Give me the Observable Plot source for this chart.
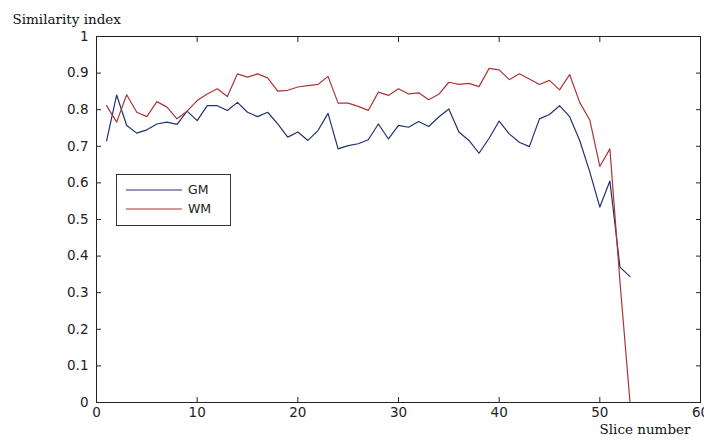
<!DOCTYPE html>
<html>
<head>
<meta charset="utf-8">
<script src="https://cdn.jsdelivr.net/npm/d3@7"></script>
<script src="https://cdn.jsdelivr.net/npm/@observablehq/plot@0.6"></script>
<style>
  body { margin: 0; background: #fff; }
  #wrap { position: relative; width: 704px; height: 445px; overflow: hidden; background: #fff; }
  #legend { position: absolute; left: 116px; top: 174px; width: 113px; height: 50px;
            border: 1px solid #333; background: #fff; }
</style>
</head>
<body>
<div id="wrap"><div id="chart"></div><div id="legend"></div></div>
<script>
const slices = [1,2,3,4,5,6,7,8,9,10,11,12,13,14,15,16,17,18,19,20,21,22,23,24,25,26,27,28,29,30,31,32,33,34,35,36,37,38,39,40,41,42,43,44,45,46,47,48,49,50,51,52,53];
const gmValues = [0.715,0.84,0.757,0.736,0.745,0.761,0.766,0.76,0.796,0.77,0.811,0.811,0.798,0.82,0.793,0.781,0.793,0.761,0.725,0.739,0.716,0.743,0.79,0.693,0.702,0.707,0.718,0.761,0.72,0.757,0.752,0.768,0.754,0.78,0.802,0.739,0.716,0.681,0.722,0.769,0.734,0.711,0.699,0.775,0.787,0.811,0.781,0.716,0.63,0.534,0.605,0.37,0.344];
const wmValues = [0.811,0.766,0.841,0.793,0.781,0.822,0.807,0.775,0.796,0.825,0.843,0.857,0.836,0.898,0.889,0.898,0.887,0.851,0.853,0.862,0.866,0.869,0.891,0.818,0.818,0.809,0.798,0.848,0.839,0.857,0.843,0.846,0.827,0.842,0.875,0.869,0.872,0.863,0.913,0.909,0.882,0.898,0.884,0.869,0.88,0.854,0.896,0.82,0.772,0.645,0.693,0.33,0];
const seriesNames = ["GM", "WM"];
const seriesColors = ["#24316f", "#ab3535"];
const xTicks = [0,10,20,30,40,50,60];
const yTicks = [0,0.1,0.2,0.3,0.4,0.5,0.6,0.7,0.8,0.9,1];
const xTitle = "Slice number";
const yTitle = "Similarity index";

const rows = [];
slices.forEach((s, i) => rows.push({slice: s, value: gmValues[i], series: seriesNames[0]}));
slices.forEach((s, i) => rows.push({slice: s, value: wmValues[i], series: seriesNames[1]}));

const fmtY = d => String(+d.toFixed(1));
const axisFont = {fontFamily: "DejaVu Sans", fontSize: 13.5, fill: "#222"};
const blank = () => "";

const chart = Plot.plot({
  width: 704, height: 445,
  marginLeft: 96, marginRight: 4, marginTop: 36, marginBottom: 43,
  style: {background: "#fff", color: "#222", fontFamily: "DejaVu Sans", fontSize: "13.5px", overflow: "visible"},
  x: {domain: [0, 60]},
  y: {domain: [0, 1]},
  color: {domain: seriesNames, range: seriesColors},
  marks: [
    Plot.axisX({anchor: "bottom", ticks: xTicks, tickSize: 0, tickPadding: 5, label: null, ...axisFont}),
    Plot.axisY({anchor: "left", ticks: yTicks, tickSize: 0, tickPadding: 8, tickFormat: fmtY, label: null, ...axisFont}),
    // inward-pointing ticks on all four sides (MATLAB style)
    Plot.axisX({anchor: "bottom", ticks: xTicks, tickSize: 5, dy: -5, tickFormat: blank, label: null, stroke: "#222"}),
    Plot.axisX({anchor: "top", ticks: xTicks, tickSize: 5, dy: 5, tickFormat: blank, label: null, stroke: "#222"}),
    Plot.axisY({anchor: "left", ticks: yTicks, tickSize: 5, dx: 5, tickFormat: blank, label: null, stroke: "#222"}),
    Plot.axisY({anchor: "right", ticks: yTicks, tickSize: 5, dx: -5, tickFormat: blank, label: null, stroke: "#222"}),
    Plot.line(rows, {x: "slice", y: "value", z: "series", stroke: "series", strokeWidth: 1.2}),
    Plot.frame({stroke: "#222", strokeWidth: 1}),
    Plot.text([yTitle], {text: d => d, frameAnchor: "top-left", dx: -84, dy: -22, textAnchor: "start",
      fontFamily: "DejaVu Serif", fontSize: 13.5, fill: "#111"}),
    Plot.text([xTitle], {text: d => d, frameAnchor: "bottom-right", dx: -10, dy: 31, textAnchor: "end",
      fontFamily: "DejaVu Serif", fontSize: 13.5, fill: "#111"})
  ]
});
document.getElementById("chart").appendChild(chart);

// legend
const ns = "http://www.w3.org/2000/svg";
const lg = document.createElementNS(ns, "svg");
lg.setAttribute("width", 113); lg.setAttribute("height", 50);
seriesNames.forEach((name, i) => {
  const yy = 15 + i * 19;
  const ln = document.createElementNS(ns, "line");
  ln.setAttribute("x1", 9); ln.setAttribute("x2", 65);
  ln.setAttribute("y1", yy); ln.setAttribute("y2", yy);
  ln.setAttribute("stroke", seriesColors[i]); ln.setAttribute("stroke-width", 1.2);
  lg.appendChild(ln);
  const tx = document.createElementNS(ns, "text");
  tx.setAttribute("x", 71); tx.setAttribute("y", yy);
  tx.setAttribute("dy", "0.35em");
  tx.setAttribute("font-family", "DejaVu Sans"); tx.setAttribute("font-size", 12.5);
  tx.setAttribute("fill", "#222");
  tx.textContent = name;
  lg.appendChild(tx);
});
document.getElementById("legend").appendChild(lg);
</script>
</body>
</html>
